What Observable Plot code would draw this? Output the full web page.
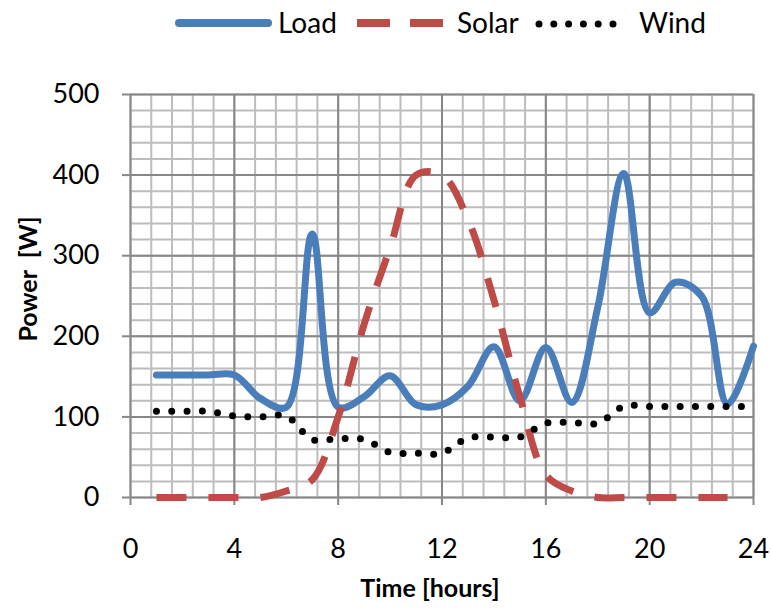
<!DOCTYPE html>
<html>
<head>
<meta charset="utf-8">
<script src="https://cdn.jsdelivr.net/npm/d3@7"></script>
<script src="https://cdn.jsdelivr.net/npm/@observablehq/plot@0.6"></script>
<style>
  html, body { margin: 0; padding: 0; background: #fff; }
  #legend { display: block; }
  #chart svg { display: block; }
</style>
</head>
<body>
<svg id="legend" width="771" height="50"></svg>
<div id="chart"></div>
<script>
// ---- data ----
const loadHours  = [1,2,3,4,5,6,7,8,9,10,11,12,13,14,15,16,17,18,19,20,21,22,23,24];
const loadValues = [152,152,152,152,123,112,327,112,125,151,115,115,138,187,120,186,118,236,402,229,267,250,116,188];

const solarHours  = [1,2,3,4,5,6,7,8,9,10,11,12,13,14,15,16,17,18,19,20,21,22,23];
const solarValues = [0,0,0,0,0,8,22,100,215,310,400,400,345,245,125,28,8,0,0,0,0,0,0];

const windHours  = [1,2,3,4,5,6,7,8,9,10,11,12,13,14,15,16,17,18,19,20,21,22,23,24];
const windValues = [107,107,107,101,100,101,72,73,72,56,55,55,74,75,75,92,93,92,113,113,113,113,113,113];

const seriesNames  = ["Load", "Solar", "Wind"];
const seriesColors = ["#4A7EBB", "#BE4B48", "#000000"];

const xMajorTicks = [0, 4, 8, 12, 16, 20, 24];
const yMajorTicks = [0, 100, 200, 300, 400, 500];
const xMinorStep = 0.8;
const yMinorStep = 20;

const xTitle = "Time [hours]";
const yTitle = "Power\u00a0 [W]";

// ---- tables ----
const loadData  = loadHours.map((h, i) => ({h, v: loadValues[i]}));
const solarData = solarHours.map((h, i) => ({h, v: solarValues[i]}));
const windData  = windHours.map((h, i) => ({h, v: windValues[i]}));
const xMinor = d3.range(0, 31).map(i => +(i * xMinorStep).toFixed(4));
const yMinor = d3.range(0, 26).map(i => i * yMinorStep);

const FONT = "Lato, 'Open Sans', sans-serif";
const MINOR = "#bdbdbd";
const MAJOR = "#878787";

// ---- legend ----
const leg = d3.select("#legend");
const legY = 23;
const legText = (x, t) => leg.append("text").attr("x", x).attr("y", 33)
  .attr("font-family", FONT).attr("font-size", 28).attr("fill", "#000").text(t);
leg.append("line").attr("x1", 179).attr("x2", 268).attr("y1", legY).attr("y2", legY)
  .attr("stroke", seriesColors[0]).attr("stroke-width", 8).attr("stroke-linecap", "round");
legText(278, seriesNames[0]);
leg.append("line").attr("x1", 357).attr("x2", 443).attr("y1", legY).attr("y2", legY)
  .attr("stroke", seriesColors[1]).attr("stroke-width", 8).attr("stroke-dasharray", "33 20");
legText(457, seriesNames[1]);
leg.append("line").attr("x1", 539).attr("x2", 614).attr("y1", legY + 1).attr("y2", legY + 1)
  .attr("stroke", seriesColors[2]).attr("stroke-width", 7).attr("stroke-dasharray", "0 14.8")
  .attr("stroke-linecap", "round");
legText(639, seriesNames[2]);

// ---- chart ----
const chart = Plot.plot({
  width: 771,
  height: 560,
  marginLeft: 130,
  marginRight: 18,
  marginTop: 44,
  marginBottom: 113,
  style: {fontFamily: FONT, background: "#fff", color: "#000", overflow: "visible"},
  x: {domain: [0, 24]},
  y: {domain: [0, 500]},
  marks: [
    Plot.ruleX(xMinor, {stroke: MINOR, strokeWidth: 2}),
    Plot.ruleY(yMinor, {stroke: MINOR, strokeWidth: 2}),
    Plot.ruleX(xMajorTicks, {stroke: MAJOR, strokeWidth: 2}),
    Plot.ruleY(yMajorTicks, {stroke: MAJOR, strokeWidth: 2}),
    Plot.axisX(xMajorTicks, {tickSize: 8, tickPadding: 33, stroke: MAJOR, strokeWidth: 2,
      fill: "#000", fontSize: 27, label: null, tickFormat: d => String(d)}),
    Plot.axisY(yMajorTicks, {tickSize: 8, tickPadding: 23, stroke: MAJOR, strokeWidth: 2,
      fill: "#000", fontSize: 27, label: null, tickFormat: d => String(d)}),
    Plot.line(loadData, {x: "h", y: "v", stroke: seriesColors[0], strokeWidth: 7,
      curve: "catmull-rom", strokeLinecap: "round", strokeLinejoin: "round"}),
    Plot.line(solarData, {x: "h", y: "v", stroke: seriesColors[1], strokeWidth: 7,
      curve: "catmull-rom", strokeDasharray: "30 22", strokeLinecap: "butt"}),
    Plot.line(windData, {x: "h", y: "v", stroke: seriesColors[2], strokeWidth: 7,
      curve: "catmull-rom", strokeDasharray: "0 15.3", strokeLinecap: "round"}),
    Plot.text([xTitle], {frameAnchor: "bottom", text: d => d, dy: 99, dx: -12,
      lineAnchor: "bottom", textAnchor: "middle", fontSize: 25, fontWeight: "bold", fill: "#000"}),
    Plot.text([yTitle], {frameAnchor: "left", text: d => d, dx: -102, dy: -17,
      rotate: -90, lineAnchor: "middle", textAnchor: "middle", fontSize: 25, fontWeight: "bold", fill: "#000"})
  ]
});
document.getElementById("chart").appendChild(chart);
</script>
</body>
</html>
